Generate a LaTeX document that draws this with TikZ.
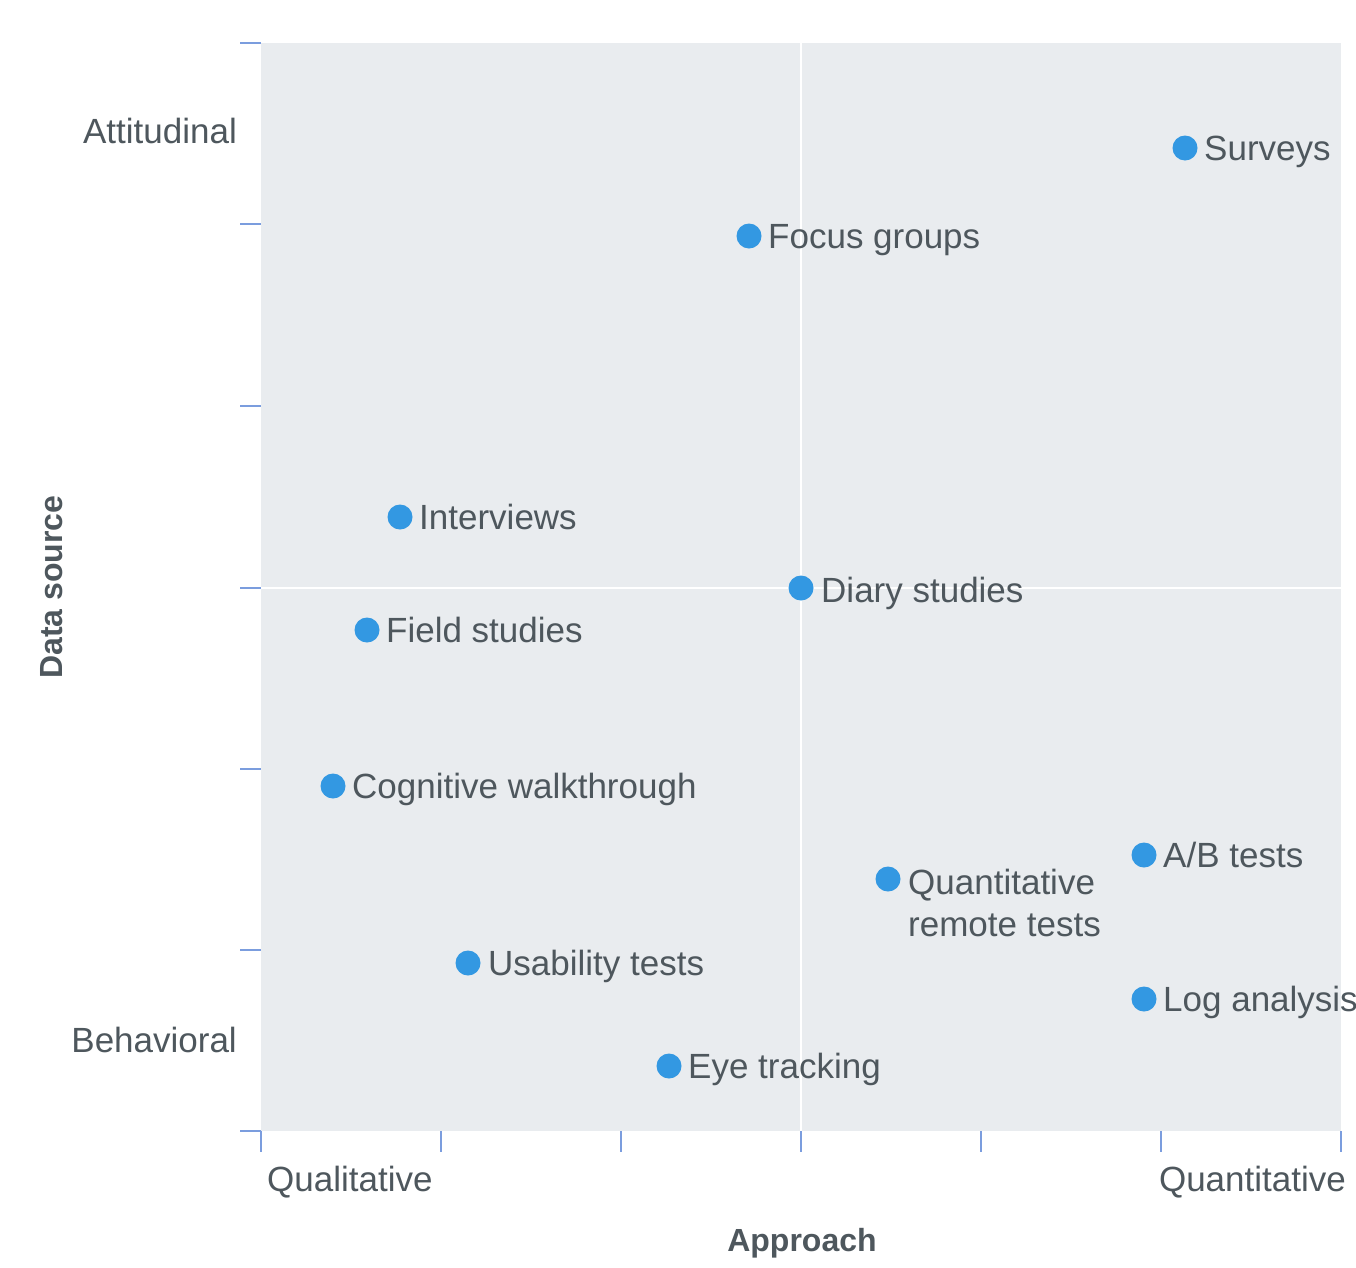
\documentclass[tikz,border=0pt]{standalone}
\usepackage{fontspec}
\setmainfont{Liberation Sans}
\definecolor{plotbg}{HTML}{E9ECEF}
\definecolor{dotblue}{HTML}{3398E2}
\definecolor{txtgray}{HTML}{4E575D}
\definecolor{tickblue}{HTML}{7B9DDE}
\tikzset{
  pt/.style={circle,fill=dotblue,inner sep=0pt,minimum size=25pt},
  lbl/.style={anchor=base west,inner sep=0pt,text=txtgray,font=\fontsize{35}{42}\selectfont},
  axlbl/.style={inner sep=0pt,text=txtgray,font=\fontsize{35}{42}\selectfont},
  axtitle/.style={inner sep=0pt,text=txtgray,font=\fontsize{32}{38}\selectfont\bfseries},
  tickline/.style={draw=tickblue,line width=2.5pt},
  gridline/.style={draw=white,line width=2pt}
}
\begin{document}
\begin{tikzpicture}[x=1pt,y=-1pt]
\useasboundingbox (0,0) rectangle (1356,1267);
\fill[plotbg] (261,43) rectangle (1341,1131);
\draw[gridline] (801,43) -- (801,1131);
\draw[gridline] (261,588) -- (1341,588);
% ticks
\foreach \yy in {43,224,406,588,769,950,1131} \draw[tickline] (240,\yy) -- (261,\yy);
\foreach \xx in {261,441,621,801,981,1161,1341} \draw[tickline] (\xx,1131) -- (\xx,1152);
% axis labels
\node[axlbl,anchor=east] (att) at (237,131) {Attitudinal};
\node[axlbl,anchor=east] (beh) at (237,1040) {Behavioral};
\node[axlbl,anchor=west] (qual) at (267,1182) {Qualitative};
\node[axlbl,anchor=east] (quant) at (1346,1182) {Quantitative};
\node[axtitle] (appr) at (802,1243) {Approach};
\node[axtitle,rotate=90] (dsrc) at (52,587) {Data source};
% points
\node[pt] (sur) at (1185,148) {};
\node[lbl] (surl) at (1204,160.5) {Surveys};
\node[pt] (foc) at (749,236) {};
\node[lbl] (focl) at (768,248.5) {Focus groups};
\node[pt] (int) at (400,517) {};
\node[lbl] (intl) at (419,529.5) {Interviews};
\node[pt] (dia) at (801,588) {};
\node[lbl] (dial) at (821,602) {Diary studies};
\node[pt] (fie) at (367,630) {};
\node[lbl] (fiel) at (386,642.5) {Field studies};
\node[pt] (cog) at (333,786) {};
\node[lbl] (cogl) at (352,798.5) {Cognitive walkthrough};
\node[pt] (ab) at (1144,855) {};
\node[lbl] (abl) at (1163,867.5) {A/B tests};
\node[pt] (qrt) at (888,879) {};
\node[lbl] (qrtl) at (908,894) {Quantitative};
\node[lbl] (qrtm) at (908,936) {remote tests};
\node[pt] (usa) at (468,963) {};
\node[lbl] (usal) at (488,975.5) {Usability tests};
\node[pt] (log) at (1144,999) {};
\node[lbl] (logl) at (1163,1011.5) {Log analysis};
\node[pt] (eye) at (669,1066) {};
\node[lbl] (eyel) at (688,1078.5) {Eye tracking};
\end{tikzpicture}
\end{document}
